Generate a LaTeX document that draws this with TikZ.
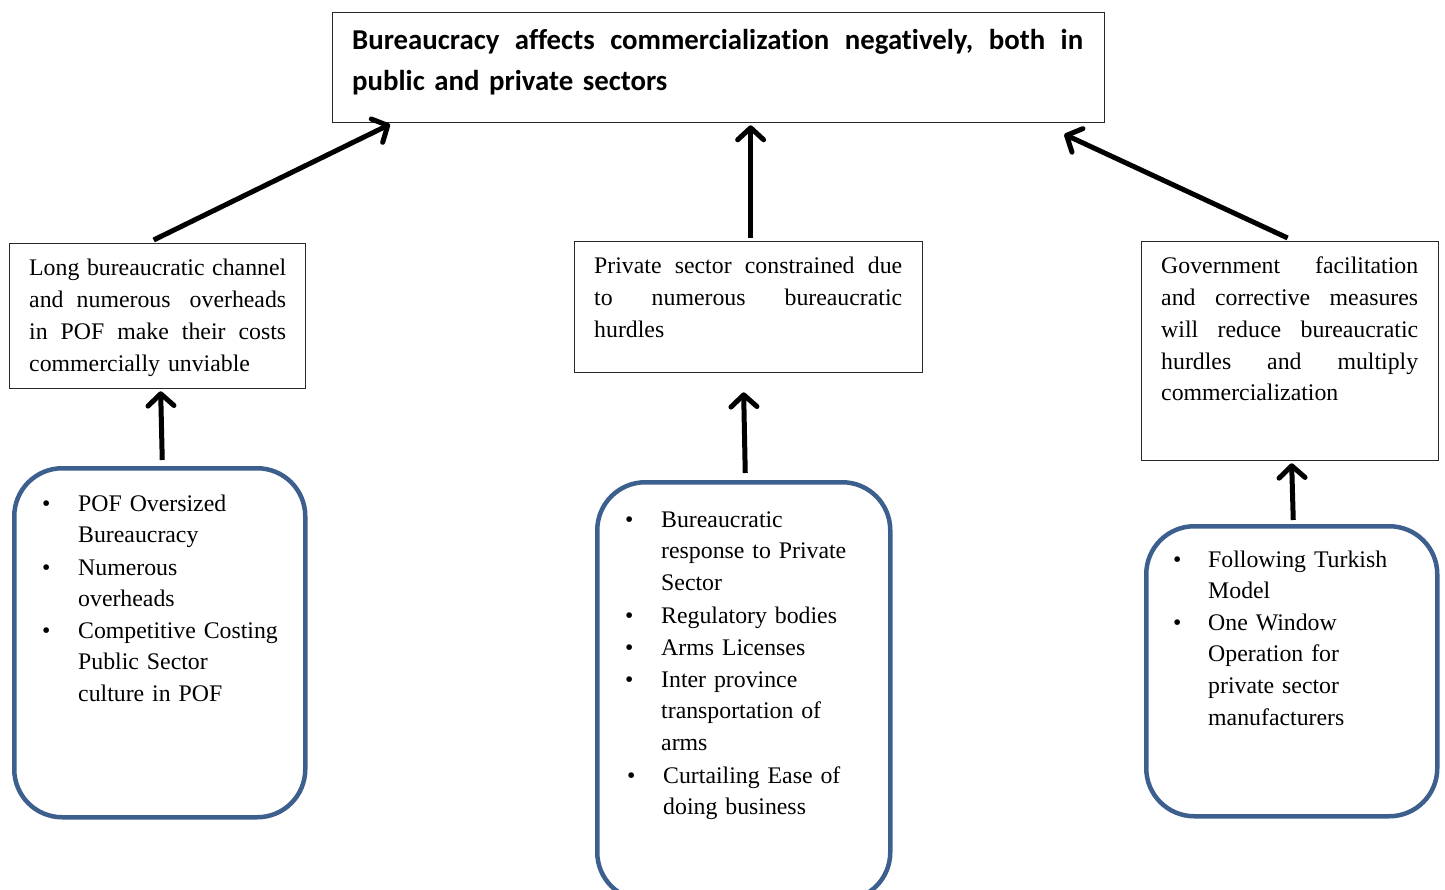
\documentclass[tikz,border=0pt]{standalone}
\usepackage{fontspec}
\setmainfont{Liberation Serif}
\newfontfamily\titlefont{Carlito}[Ligatures=NoCommon]
\usetikzlibrary{arrows.meta,calc}
\definecolor{boxblue}{RGB}{60,95,142}
\definecolor{boxline}{RGB}{40,40,40}
\newcommand\jl[1]{\leavevmode\hbox to \linewidth{#1}}
\tikzset{
  plainbox/.style={draw=boxline, line width=1.3pt, rectangle, inner sep=0pt, anchor=north west},
  roundbox/.style={draw=boxblue, line width=4.5pt, rectangle, rounded corners=48pt, inner sep=0pt, anchor=north west},
  bodytext/.style={anchor=base west, inner sep=0pt, align=left, font=\fontsize{23.8pt}{31.7pt}\selectfont},
  titletext/.style={anchor=base west, inner sep=0pt, align=left, text width=731pt, font=\titlefont\bfseries\fontsize{28.8pt}{41pt}\selectfont},
  bulletmark/.style={anchor=base west, inner sep=0pt, font=\fontsize{23.8pt}{31.7pt}\selectfont},
  arr/.style={line width=5pt, -{Straight Barb[length=12pt,width=26pt,round]}}
}
\begin{document}
\begin{tikzpicture}[x=1pt,y=-1pt]
\clip (0,0) rectangle (1445,890);
% boxes
\node[plainbox, minimum width=772pt, minimum height=110pt] (title) at (332,12) {};
\node[plainbox, minimum width=296pt, minimum height=145pt] (lbox) at (9,243) {};
\node[plainbox, minimum width=348pt, minimum height=131pt] (mbox) at (574,241) {};
\node[plainbox, minimum width=297pt, minimum height=219pt] (rbox) at (1141,241) {};
\node[roundbox, minimum width=291pt, minimum height=349pt] (lround) at (12,466) {};
\node[roundbox, minimum width=293pt, minimum height=418pt] (mround) at (595,480) {};
\node[roundbox, minimum width=291pt, minimum height=290pt] (rround) at (1144,524) {};
% texts in boxes
\node[titletext] (titletxt) at (352,50) {\jl{Bureaucracy\hfill affects\hfill commercialization\hfill negatively,\hfill both\hfill in}\\public and private sectors};
\node[bodytext, text width=257pt] (ltxt) at (29,276) {\jl{Long\hfill bureaucratic\hfill channel}\\\jl{and\hfill numerous\hfill\hspace{6pt}overheads}\\\jl{in\hfill POF\hfill make\hfill their\hfill costs}\\commercially unviable};
\node[bodytext, text width=308pt] (mtxt) at (594,274) {\jl{Private\hfill sector\hfill constrained\hfill due}\\\jl{to\hfill numerous\hfill bureaucratic}\\hurdles};
\node[bodytext, text width=257pt] (rtxt) at (1161,274) {\jl{Government\hfill facilitation}\\\jl{and\hfill corrective\hfill measures}\\\jl{will\hfill reduce\hfill bureaucratic}\\\jl{hurdles\hfill and\hfill multiply}\\commercialization};
% left bullets
\node[bulletmark] (lb1) at (42,511) {•};
\node[bodytext, text width=220pt] (li1) at (78,511) {POF Oversized\\Bureaucracy};
\node[bulletmark] (lb2) at (42,575) {•};
\node[bodytext, text width=220pt] (li2) at (78,575) {Numerous\\overheads};
\node[bulletmark] (lb3) at (42,638) {•};
\node[bodytext, text width=220pt] (li3) at (78,638) {Competitive Costing\\Public Sector\\culture in POF};
% middle bullets
\node[bulletmark] (mb1) at (625,527) {•};
\node[bodytext, text width=220pt] (mi1) at (661,527) {Bureaucratic\\response to Private\\Sector};
\node[bulletmark] (mb2) at (625,623) {•};
\node[bodytext, text width=220pt] (mi2) at (661,623) {Regulatory bodies};
\node[bulletmark] (mb3) at (625,655) {•};
\node[bodytext, text width=220pt] (mi3) at (661,655) {Arms Licenses};
\node[bulletmark] (mb4) at (625,687) {•};
\node[bodytext, text width=220pt] (mi4) at (661,687) {Inter province\\transportation of\\arms};
\node[bulletmark] (mb5) at (627,783) {•};
\node[bodytext, text width=220pt] (mi5) at (663,783) {Curtailing Ease of\\doing business};
% right bullets
\node[bulletmark] (rb1) at (1173,567) {•};
\node[bodytext, text width=220pt] (ri1) at (1208,567) {Following Turkish\\Model};
\node[bulletmark] (rb2) at (1173,630) {•};
\node[bodytext, text width=220pt] (ri2) at (1208,630) {One Window\\Operation for\\private sector\\manufacturers};
% arrows
\draw[arr] ($(lbox.north)+(-4,-3)$) -- ($(title.south west)+(58,1)$);
\draw[arr] ($(mbox.north)+(2,-3)$) -- ($(title.south)+(32,2)$);
\draw[arr] ($(rbox.north)+(-2.5,-3)$) -- ($(title.south east)+(-41,11)$);
\draw[arr] ($(lround.north)+(2.5,-6)$) -- ($(lbox.south)+(3,2)$);
\draw[arr] ($(mround.north)+(1.5,-7)$) -- ($(mbox.south)+(-5,19)$);
\draw[arr] ($(rround.north)+(1.5,-4)$) -- ($(rbox.south)+(1.5,2)$);
\end{tikzpicture}
\end{document}
